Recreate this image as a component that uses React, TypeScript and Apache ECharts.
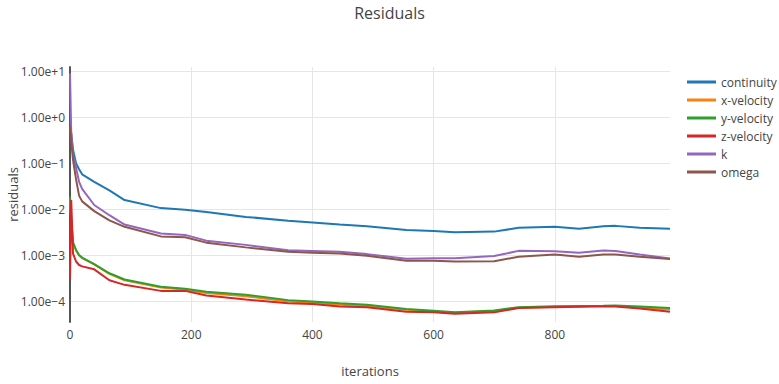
import React, { useEffect, useRef } from "react";
import * as echarts from "echarts";

const iterations = [0, 2, 5, 10, 15, 20, 40, 65, 90, 150, 190, 225, 290, 360, 400, 445, 490, 555, 600, 635, 700, 740, 800, 840, 880, 900, 940, 990];

const continuity = [0.6, 0.45, 0.2, 0.1, 0.075, 0.058, 0.04, 0.026, 0.016, 0.0107, 0.0099, 0.0088, 0.0069, 0.0057, 0.0052, 0.0047, 0.0043, 0.0036, 0.0034, 0.0032, 0.0033, 0.004, 0.0042, 0.0038, 0.0043, 0.0044, 0.004, 0.0038];
const xVelocity = [0.018, 0.006, 0.0019, 0.0013, 0.001, 0.00088, 0.00064, 0.0004, 0.00029, 0.0002, 0.00018, 0.000152, 0.00013, 0.0001, 0.000094, 0.000085, 0.00008, 0.000066, 0.00006, 0.000057, 0.000062, 0.000073, 0.000077, 0.000078, 0.00008, 0.00008, 0.000074, 0.000067];
const yVelocity = [0.019, 0.006, 0.0019, 0.0013, 0.00102, 0.0009, 0.00065, 0.00041, 0.0003, 0.00021, 0.00019, 0.000162, 0.00014, 0.000107, 0.0001, 0.000091, 0.000085, 0.000069, 0.000063, 0.000058, 0.000064, 0.000075, 0.000079, 0.00008, 0.000081, 0.000082, 0.000078, 0.000072];
const zVelocity = [0.0003, 0.016, 0.0011, 0.00074, 0.00062, 0.00058, 0.0005, 0.00029, 0.00023, 0.00017, 0.00017, 0.000135, 0.00011, 0.000091, 0.000088, 0.000078, 0.000075, 0.00006, 0.000058, 0.000054, 0.000058, 0.000072, 0.000075, 0.000077, 0.000079, 0.000078, 0.00007, 0.00006];
const kValues = [9, 0.5, 0.15, 0.08, 0.04, 0.028, 0.0125, 0.0075, 0.0047, 0.003, 0.0028, 0.0021, 0.0017, 0.0013, 0.00125, 0.0012, 0.00107, 0.00085, 0.00087, 0.00087, 0.00097, 0.00126, 0.00124, 0.00115, 0.00128, 0.00125, 0.00105, 0.00086];
const omega = [0.65, 0.3, 0.12, 0.045, 0.02, 0.015, 0.0092, 0.0058, 0.0042, 0.0026, 0.0025, 0.0019, 0.0015, 0.0012, 0.00115, 0.0011, 0.00099, 0.00077, 0.00077, 0.00074, 0.00075, 0.00094, 0.00105, 0.00094, 0.00105, 0.00105, 0.00094, 0.00084];

const seriesNames = ["continuity", "x-velocity", "y-velocity", "z-velocity", "k", "omega"];
const seriesValues = [continuity, xVelocity, yVelocity, zVelocity, kValues, omega];
const colors = ["#1f77b4", "#ff7f0e", "#2ca02c", "#d62728", "#9467bd", "#8c564b"];

const xTicks = [0, 200, 400, 600, 800];
const yTicks = [1e-4, 1e-3, 1e-2, 1e-1, 1e0, 1e1];

const FONT = "'Open Sans', 'DejaVu Sans', sans-serif";

export default function App() {
  const ref = useRef<HTMLDivElement>(null);
  useEffect(() => {
    if (!ref.current) return;
    const chart = echarts.init(ref.current, null, { renderer: "svg" });
    chart.setOption({
      animation: false,
      color: colors,
      textStyle: { fontFamily: FONT },
      title: {
        text: "Residuals",
        left: "center",
        top: 0,
        textStyle: { fontFamily: FONT, fontSize: 16, fontWeight: "normal", color: "#444" },
      },
      legend: {
        orient: "vertical",
        left: 682,
        top: 71,
        itemWidth: 29,
        itemHeight: 3,
        itemGap: 6,
        icon: "rect",
        textStyle: { fontFamily: FONT, fontSize: 12, color: "#444" },
        data: seriesNames,
      },
      grid: { left: 70, right: 109, top: 67, bottom: 62, containLabel: false, outerBoundsMode: "none" },
      xAxis: {
        type: "value",
        min: 0,
        max: 990,
        name: "iterations",
        nameLocation: "middle",
        nameGap: 42,
        nameMoveOverlap: false,
        nameTextStyle: { fontFamily: FONT, fontSize: 13, color: "#444" },
        axisLine: { show: false },
        axisTick: { show: false, customValues: xTicks },
        axisLabel: { customValues: xTicks, color: "#444", fontFamily: FONT, fontSize: 12, margin: 6 },
        splitLine: { show: true, lineStyle: { color: "#e6e6e6", width: 1 } },
      },
      yAxis: {
        type: "log",
        logBase: 10,
        min: 3.58e-5,
        max: 12.5,
        name: "residuals",
        nameLocation: "middle",
        nameGap: 51,
        nameRotate: 90,
        nameMoveOverlap: false,
        nameTextStyle: { fontFamily: FONT, fontSize: 13, color: "#444" },
        axisLine: { show: true, lineStyle: { color: "#555", width: 2 } },
        axisTick: { show: false, customValues: yTicks },
        axisLabel: {
          customValues: yTicks,
          color: "#444",
          fontFamily: FONT,
          fontSize: 12,
          margin: 5,
          formatter: (v: number) => v.toExponential(2).replace("-", "\u2212"),
        },
        splitLine: { show: true, lineStyle: { color: "#e6e6e6", width: 1 } },
      },
      series: seriesNames.map((name, i) => ({
        name,
        type: "line",
        symbol: "none",
        showSymbol: false,
        lineStyle: { width: 2, color: colors[i] },
        itemStyle: { color: colors[i] },
        data: iterations.map((it, j) => [it, seriesValues[i][j]]),
      })),
    });
    return () => chart.dispose();
  }, []);
  return <div ref={ref} style={{ position: "absolute", left: 0, top: 0, width: 779, height: 384 }} />;
}
